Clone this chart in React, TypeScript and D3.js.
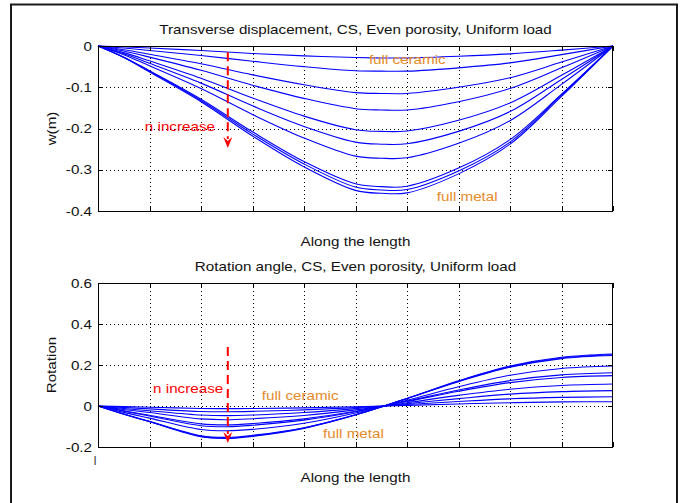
import React from "react";
import * as d3 from "d3";

// positions along the beam (fraction of length) where values were read
const wX = [0, 0.05, 0.1, 0.2, 0.3, 0.4, 0.5, 0.55, 0.6, 0.7, 0.8, 0.9, 1];
// transverse displacement, full ceramic -> full metal
const wCurves = [
  [0, -0.002, -0.005, -0.011, -0.018, -0.024, -0.028, -0.029, -0.029, -0.025, -0.019, -0.01, 0],
  [0, -0.005, -0.011, -0.023, -0.037, -0.05, -0.06, -0.061, -0.061, -0.053, -0.041, -0.021, 0],
  [0, -0.009, -0.02, -0.043, -0.07, -0.094, -0.113, -0.115, -0.115, -0.1, -0.077, -0.039, 0],
  [0, -0.012, -0.027, -0.059, -0.095, -0.127, -0.152, -0.155, -0.155, -0.135, -0.103, -0.053, 0],
  [0, -0.016, -0.036, -0.078, -0.126, -0.17, -0.203, -0.207, -0.206, -0.18, -0.138, -0.071, 0],
  [0, -0.019, -0.042, -0.09, -0.145, -0.195, -0.233, -0.238, -0.237, -0.207, -0.159, -0.081, 0],
  [0, -0.021, -0.048, -0.103, -0.166, -0.223, -0.267, -0.272, -0.271, -0.236, -0.181, -0.093, 0],
  [0, -0.027, -0.06, -0.129, -0.208, -0.28, -0.334, -0.341, -0.34, -0.296, -0.227, -0.117, 0],
  [0, -0.027, -0.061, -0.132, -0.213, -0.286, -0.342, -0.349, -0.348, -0.303, -0.233, -0.119, 0],
  [0, -0.028, -0.063, -0.135, -0.218, -0.293, -0.35, -0.357, -0.356, -0.31, -0.238, -0.122, 0],
];

const rX = [0, 0.05, 0.1, 0.2, 0.25, 0.3, 0.4, 0.5, 0.6, 0.7, 0.8, 0.9, 1];
// rotation angle, full ceramic -> full metal
const rCurves = [
  [0, -0.003, -0.006, -0.012, -0.013, -0.012, -0.009, -0.004, 0.003, 0.01, 0.016, 0.02, 0.021],
  [0, -0.007, -0.014, -0.027, -0.028, -0.026, -0.019, -0.008, 0.007, 0.022, 0.035, 0.042, 0.045],
  [0, -0.012, -0.023, -0.044, -0.047, -0.044, -0.032, -0.013, 0.011, 0.036, 0.058, 0.07, 0.075],
  [0, -0.017, -0.032, -0.063, -0.067, -0.062, -0.046, -0.019, 0.016, 0.052, 0.082, 0.1, 0.107],
  [0, -0.023, -0.045, -0.087, -0.092, -0.086, -0.063, -0.026, 0.022, 0.072, 0.114, 0.139, 0.148],
  [0, -0.025, -0.049, -0.096, -0.101, -0.094, -0.069, -0.028, 0.024, 0.078, 0.124, 0.152, 0.162],
  [0, -0.031, -0.059, -0.115, -0.121, -0.114, -0.084, -0.034, 0.028, 0.094, 0.15, 0.183, 0.195],
  [0, -0.039, -0.075, -0.145, -0.153, -0.143, -0.106, -0.043, 0.036, 0.119, 0.189, 0.231, 0.246],
  [0, -0.039, -0.076, -0.148, -0.156, -0.146, -0.107, -0.043, 0.037, 0.121, 0.192, 0.234, 0.25],
  [0, -0.04, -0.077, -0.15, -0.158, -0.148, -0.109, -0.044, 0.037, 0.123, 0.195, 0.238, 0.254],
];

const xTicks = [0, 0.1, 0.2, 0.3, 0.4, 0.5, 0.6, 0.7, 0.8, 0.9, 1];
const wTicks = [-0.4, -0.3, -0.2, -0.1, 0];
const rTicks = [-0.2, 0, 0.2, 0.4, 0.6];

const FONT = "Liberation Sans, Arial, Helvetica, sans-serif";
const ORANGE = "#e48a2a";

// MATLAB's font is wider than Arial, so stretch along the text direction
function Txt({ x, y, children, anchor = "start", fill = "#111", rotate = 0, dy = 0 }: any) {
  return (
    <text
      transform={`translate(${x},${y}) rotate(${rotate}) scale(1.17,1)`}
      textAnchor={anchor}
      dy={dy}
      fontFamily={FONT}
      fontSize={13}
      fill={fill}
    >
      {children}
    </text>
  );
}

function Panel({ top, bottom, domain, yTicks, xData, curves, title, yLabel, arrow, notes }: any) {
  const left = 98, right = 613;
  const x = d3.scaleLinear().domain([0, 1]).range([left, right]);
  const y = d3.scaleLinear().domain(domain).range([bottom, top]);
  const px = (v: number) => Math.round(x(v)) + 0.5;
  const py = (v: number) => Math.round(y(v)) + 0.5;
  const line = d3
    .line<number>()
    .x((_, i) => x(xData[i]))
    .y((d) => y(d))
    .curve(d3.curveCatmullRom.alpha(0.5));
  const inner = (t: number[]) => t.slice(1, -1);
  const ax = x(arrow.x);
  const tipY = y(arrow.y1);
  return (
    <g>
      {/* grid */}
      {inner(xTicks).map((t) => (
        <line key={"gx" + t} x1={px(t)} x2={px(t)} y1={top} y2={bottom} stroke="#000" strokeDasharray="1,3" />
      ))}
      {yTicks
        .filter((t: number) => t !== domain[0] && t !== domain[1])
        .map((t: number) => (
          <line key={"gy" + t} x1={left} x2={right} y1={py(t)} y2={py(t)} stroke="#000" strokeDasharray="1,3" />
        ))}
      {/* curves */}
      {curves.map((c: number[], i: number) => (
        <path key={i} d={line(c) as string} fill="none" stroke="#0000ff" strokeWidth={1.1} />
      ))}
      {/* frame and ticks */}
      <rect x={left + 0.5} y={top + 0.5} width={right - left - 1} height={bottom - top} fill="none" stroke="#000" />
      {xTicks.map((t) => (
        <g key={"tx" + t}>
          <line x1={px(t)} x2={px(t)} y1={bottom} y2={bottom - 5} stroke="#000" />
          <line x1={px(t)} x2={px(t)} y1={top} y2={top + 5} stroke="#000" />
        </g>
      ))}
      {yTicks.map((t: number) => (
        <g key={"ty" + t}>
          <line x1={left} x2={left + 5} y1={py(t)} y2={py(t)} stroke="#000" />
          <line x1={right} x2={right - 5} y1={py(t)} y2={py(t)} stroke="#000" />
          <Txt x={92} y={y(t)} anchor="end" dy="0.36em">
            {String(t)}
          </Txt>
        </g>
      ))}
      {/* arrow */}
      <line x1={ax} x2={ax} y1={y(arrow.y0)} y2={tipY - 9} stroke="#ff0000" strokeWidth={2} strokeDasharray="9,5" />
      <polygon
        points={`${ax},${tipY} ${ax - 4.5},${tipY - 11} ${ax},${tipY - 7} ${ax + 4.5},${tipY - 11}`}
        fill="#ff0000"
      />
      {notes.map((n: any) => (
        <Txt key={n.text} x={x(n.x)} y={y(n.y)} fill={n.color}>
          {n.text}
        </Txt>
      ))}
      <Txt x={355.5} y={top - 12} anchor="middle">
        {title}
      </Txt>
      <Txt x={355.5} y={bottom + 35} anchor="middle">
        Along the length
      </Txt>
      <Txt x={56} y={(top + bottom) / 2} anchor="middle" rotate={-90}>
        {yLabel}
      </Txt>
    </g>
  );
}

export default function App() {
  return (
    <svg width={685} height={503} style={{ position: "absolute", left: 0, top: 0, background: "#fff" }}>
      <rect x={0} y={0} width={685} height={503} fill="#fff" />
      <rect x={11} y={4.5} width={666} height={530} fill="none" stroke="#1a1a1a" strokeWidth={2} />
      <Panel
        top={46}
        bottom={211}
        domain={[-0.4, 0]}
        yTicks={wTicks}
        xData={wX}
        curves={wCurves}
        title="Transverse displacement, CS, Even porosity, Uniform load"
        yLabel="w(m)"
        arrow={{ x: 0.252, y0: -0.015, y1: -0.247 }}
        notes={[
          { text: "n increase", x: 0.091, y: -0.205, color: "#ff0000" },
          { text: "full ceramic", x: 0.526, y: -0.044, color: ORANGE },
          { text: "full metal", x: 0.658, y: -0.376, color: ORANGE },
        ]}
      />
      <Panel
        top={283}
        bottom={447}
        domain={[-0.2, 0.6]}
        yTicks={rTicks}
        xData={rX}
        curves={rCurves}
        title="Rotation angle, CS, Even porosity, Uniform load"
        yLabel="Rotation"
        arrow={{ x: 0.252, y0: 0.288, y1: -0.18 }}
        notes={[
          { text: "n increase", x: 0.107, y: 0.063, color: "#ff0000" },
          { text: "full ceramic", x: 0.318, y: 0.029, color: ORANGE },
          { text: "full metal", x: 0.437, y: -0.156, color: ORANGE },
        ]}
      />
      <text x={95} y={465} textAnchor="middle" fontFamily={FONT} fontSize={12} fill="#333">
        l
      </text>
    </svg>
  );
}
